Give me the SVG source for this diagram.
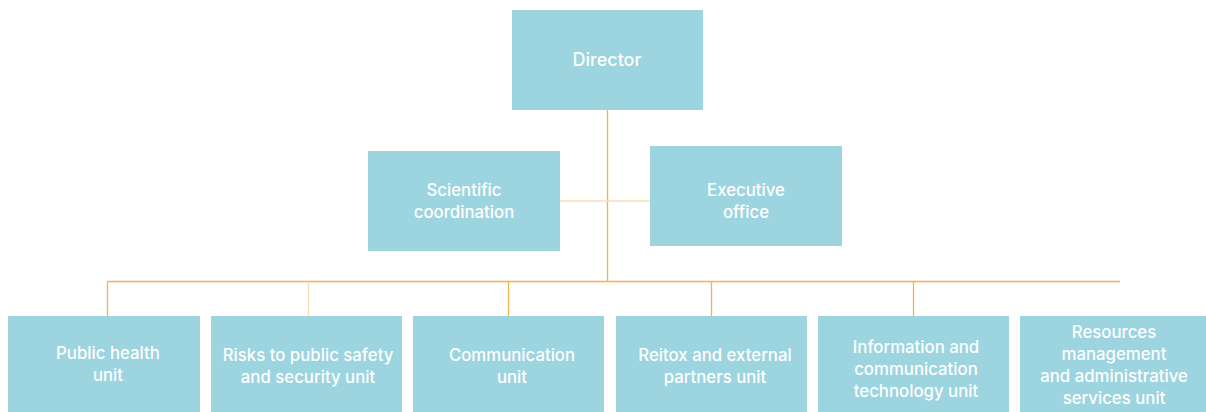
<svg xmlns="http://www.w3.org/2000/svg" width="1206" height="412" viewBox="0 0 1206 412">
<style>
.box{fill:#9cd4df}
.t{font-family:Inter,"Liberation Sans",Arial,sans-serif;font-size:16.8px;fill:#ffffff;text-anchor:middle;font-weight:500}
.big{font-size:18px}
.ln{stroke:#f2b351;stroke-width:1.3;fill:none}
.lt{stroke:#f8dfb0;stroke-width:1.3;fill:none}
</style>
<rect width="1206" height="412" fill="#ffffff"/>
<g id="connectors">
<line class="ln" x1="607.5" y1="110" x2="607.5" y2="281.5"/>
<line class="lt" x1="560" y1="201" x2="650" y2="201"/>
<line class="ln" x1="107.5" y1="281.5" x2="1120" y2="281.5"/>
<line class="ln" x1="107.5" y1="281.5" x2="107.5" y2="316"/>
<line class="lt" x1="308.5" y1="281.5" x2="308.5" y2="316"/>
<line class="ln" x1="508.5" y1="281.5" x2="508.5" y2="316"/>
<line class="ln" x1="711.5" y1="281.5" x2="711.5" y2="316"/>
<line class="ln" x1="913.5" y1="281.5" x2="913.5" y2="316"/>
</g>
<g id="director">
<rect class="box" x="512" y="10" width="191" height="100"/>
<text class="t big" x="607" y="66">Director</text>
</g>
<g id="scientific-coordination">
<rect class="box" x="368" y="151" width="192" height="100"/>
<text class="t" x="464" y="196">Scientific</text>
<text class="t" x="464" y="218">coordination</text>
</g>
<g id="executive-office">
<rect class="box" x="650" y="146" width="192" height="100"/>
<text class="t" x="746" y="196">Executive</text>
<text class="t" x="746" y="218">office</text>
</g>
<g id="public-health-unit">
<rect class="box" x="8" y="316" width="192" height="96"/>
<text class="t" x="108" y="359">Public health</text>
<text class="t" x="108" y="381">unit</text>
</g>
<g id="risks-unit">
<rect class="box" x="211" y="316" width="191" height="96"/>
<text class="t" x="308" y="361">Risks to public safety</text>
<text class="t" x="308" y="383">and security unit</text>
</g>
<g id="communication-unit">
<rect class="box" x="413" y="316" width="191" height="96"/>
<text class="t" x="512" y="361">Communication</text>
<text class="t" x="512" y="383">unit</text>
</g>
<g id="reitox-unit">
<rect class="box" x="616" y="316" width="191" height="96"/>
<text class="t" x="715" y="361">Reitox and external</text>
<text class="t" x="715" y="383">partners unit</text>
</g>
<g id="ict-unit">
<rect class="box" x="818" y="316" width="191" height="96"/>
<text class="t" x="916" y="353">Information and</text>
<text class="t" x="916" y="375">communication</text>
<text class="t" x="916" y="397">technology unit</text>
</g>
<g id="resources-unit">
<rect class="box" x="1020" y="316" width="186" height="96"/>
<text class="t" x="1114" y="338">Resources</text>
<text class="t" x="1114" y="360">management</text>
<text class="t" x="1114" y="382">and administrative</text>
<text class="t" x="1114" y="404">services unit</text>
</g>
</svg>
